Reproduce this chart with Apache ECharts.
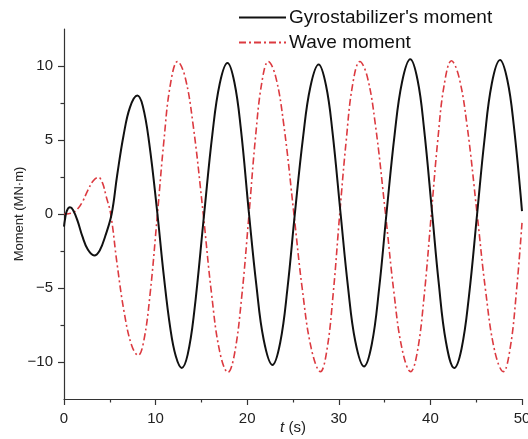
<!DOCTYPE html>
<html>
<head>
<meta charset="utf-8">
<script src="https://cdn.jsdelivr.net/npm/echarts@6/dist/echarts.min.js"></script>
<style>
html,body{margin:0;padding:0;background:#fff;}
#chart{width:528px;height:439px;}
</style>
</head>
<body>
<div id="chart"></div>
<script>
// ---- data ----
var seriesNames = ["Gyrostabilizer's moment", "Wave moment"];
var xTicks = [0, 10, 20, 30, 40, 50];
var yTicks = [-10, -5, 0, 5, 10];
var yMinorTicks = [-7.5, -2.5, 2.5, 7.5];

var tGyro = [0, 0.1, 0.3, 0.65, 1.0, 1.5, 2.0, 2.6, 3.3, 3.9, 4.5, 5.2, 5.8, 6.5, 7.2, 8.0, 8.6, 9.3, 10.2, 10.9, 11.6, 12.2, 12.85, 13.5, 14.2, 15.3, 16.2, 17.0, 17.85, 18.6, 19.3, 20.2, 21.0, 21.8, 22.75, 23.6, 24.4, 25.2, 26.1, 26.9, 27.8, 28.6, 29.3, 30.2, 31.0, 31.8, 32.75, 33.6, 34.4, 35.2, 36.1, 36.9, 37.8, 38.6, 39.3, 40.2, 40.9, 41.7, 42.6, 43.4, 44.2, 45.1, 45.9, 46.7, 47.6, 48.4, 49.1, 50];
var mGyro = [-0.85, -0.4, 0.2, 0.45, 0.25, -0.5, -1.5, -2.4, -2.8, -2.46, -1.5, 0, 2.6, 5.3, 7.2, 8.0, 7.3, 4.8, 0, -4.2, -7.7, -9.6, -10.4, -9.5, -6.7, 0, 5.4, 8.8, 10.2, 8.9, 5.8, 0, -4.8, -8.5, -10.2, -8.7, -5.0, 0, 5.2, 8.6, 10.1, 8.7, 5.6, 0, -4.9, -8.6, -10.3, -8.8, -5.05, 0, 5.4, 8.9, 10.45, 9.05, 5.8, 0, -4.6, -8.65, -10.4, -9.1, -5.6, 0, 5.0, 8.8, 10.4, 9.05, 6.0, 0.2];

var tWave = [0, 0.5, 1.0, 1.5, 2.0, 2.6, 3.2, 3.75, 4.2, 4.6, 5.1, 5.8, 6.6, 7.4, 8.1, 8.7, 9.4, 10.2, 10.9, 11.6, 12.4, 13.2, 14.1, 15.2, 16.1, 17.0, 17.9, 18.6, 19.4, 20.2, 20.9, 21.6, 22.3, 23.1, 24.0, 25.1, 26.0, 27.0, 28.0, 28.7, 29.4, 30.1, 30.8, 31.5, 32.3, 33.1, 34.0, 35.1, 36.0, 36.9, 37.85, 38.55, 39.3, 40.1, 40.8, 41.5, 42.3, 43.1, 44.0, 45.1, 46.0, 47.0, 47.96, 48.7, 49.4, 50];
var mWave = [0, 0.02, 0.1, 0.35, 0.8, 1.6, 2.25, 2.48, 2.1, 1.2, 0, -3.4, -6.75, -8.9, -9.55, -8.6, -5.4, 0, 4.9, 8.7, 10.3, 9.3, 6.0, 0, -5.35, -9.3, -10.7, -9.5, -5.6, 0, 5.15, 8.9, 10.3, 9.3, 6.0, 0, -5.0, -9.1, -10.65, -9.2, -5.3, 0, 4.9, 8.7, 10.3, 9.3, 6.0, 0, -5.2, -9.1, -10.65, -9.4, -5.65, 0, 4.95, 8.7, 10.35, 9.3, 6.0, 0, -5.05, -9.2, -10.65, -9.1, -5.2, -0.6];

function pairs(xs, ys) { return xs.map(function (x, i) { return [x, ys[i]]; }); }

var FONT = '"Liberation Sans", Arial, sans-serif';
var AX = '#333';
var RED = '#dc3a40';

var chart = echarts.init(document.getElementById('chart'), null, {renderer: 'canvas'});
chart.setOption({
  animation: false,
  backgroundColor: '#fff',
  grid: {left: 64, right: 6, top: 29, bottom: 40, containLabel: false, outerBoundsMode: 'none'},
  legend: {
    orient: 'vertical',
    left: 238,
    top: 8,
    padding: 0,
    itemWidth: 47,
    itemHeight: 14,
    itemGap: 6,
    itemStyle: {opacity: 0, borderWidth: 0},
    textStyle: {fontFamily: FONT, fontSize: 19, lineHeight: 19, color: '#111', padding: [0, 0, 0, -2]},
    data: seriesNames
  },
  xAxis: {
    type: 'value',
    min: 0, max: 50, interval: 10,
    name: '{i|t} (s)',
    nameLocation: 'middle',
    nameGap: 21,
    nameMoveOverlap: false,
    nameTextStyle: {fontFamily: FONT, fontSize: 15, color: '#222',
      rich: {i: {fontStyle: 'italic', fontFamily: FONT, fontSize: 15, color: '#222'}}},
    axisLine: {show: true, onZero: false, lineStyle: {color: AX, width: 1.2}},
    axisTick: {show: true, inside: false, length: 6, lineStyle: {color: AX, width: 1.2}},
    minorTick: {show: true, splitNumber: 2, length: 3.5, lineStyle: {color: AX, width: 1.2}},
    axisLabel: {fontFamily: FONT, fontSize: 15, color: '#222', margin: 12,
      customValues: xTicks},
    splitLine: {show: false}
  },
  yAxis: [{
    type: 'value',
    min: -12.5, max: 12.5,
    name: 'Moment (MN·m)',
    nameLocation: 'middle',
    nameGap: 38,
    nameMoveOverlap: false,
    nameTextStyle: {fontFamily: FONT, fontSize: 13, color: '#222'},
    axisLine: {show: true, onZero: false, lineStyle: {color: AX, width: 1.2}},
    axisTick: {show: true, inside: false, length: 6, lineStyle: {color: AX, width: 1.2},
      customValues: yTicks},
    axisLabel: {fontFamily: FONT, fontSize: 15, color: '#222', margin: 11,
      customValues: yTicks,
      formatter: function (v) { return v < 0 ? '\u2212' + Math.abs(v) : String(v); }},
    splitLine: {show: false}
  }, {
    type: 'value',
    position: 'left',
    min: -12.5, max: 12.5,
    axisLine: {show: false, onZero: false},
    axisTick: {show: true, inside: false, length: 3.5, lineStyle: {color: AX, width: 1.2},
      customValues: yMinorTicks},
    axisLabel: {show: false},
    splitLine: {show: false}
  }],
  series: [{
    name: seriesNames[0],
    type: 'line',
    data: pairs(tGyro, mGyro),
    smooth: 0.4,
    symbol: 'none',
    lineStyle: {color: '#111', width: 2},
    itemStyle: {color: '#111'},
    z: 3
  }, {
    name: seriesNames[1],
    type: 'line',
    data: pairs(tWave, mWave),
    smooth: 0.4,
    symbol: 'none',
    lineStyle: {color: RED, width: 1.6, type: [7, 3, 2, 3]},
    itemStyle: {color: RED},
    z: 2
  }]
});
</script>
</body>
</html>
